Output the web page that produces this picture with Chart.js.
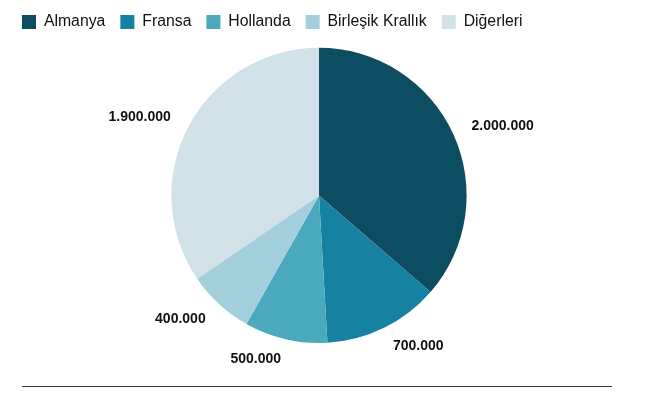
<!DOCTYPE html>
<html>
<head>
<meta charset="utf-8">
<script src="https://cdn.jsdelivr.net/npm/chart.js@4"></script>
<style>
  html, body { margin: 0; padding: 0; background: #fff; overflow: hidden; }
  #wrap { position: absolute; left: 7px; top: -1px; width: 624px; height: 384px; }
  #rule { position: absolute; left: 22px; top: 386px; width: 590px; height: 0; border-top: 1.5px solid #383838; }
</style>
</head>
<body>
<div id="wrap"><canvas id="pie"></canvas></div>
<div id="rule"></div>
<script>
// ── data ───────────────────────────────────────────────
const countries = ['Almanya', 'Fransa', 'Hollanda', 'Birleşik Krallık', 'Diğerleri'];
const visitors  = [2000000, 700000, 500000, 400000, 1900000];
const colors    = ['#0c4d61', '#1781a1', '#4ba9be', '#a3cfdc', '#d0e2e7'];

const fmt = (v) => v.toLocaleString('de-DE');

// a bit more space under the legend
const legendGap = {
    id: 'legendGap',
    beforeInit(chart) {
        const fit = chart.legend.fit;
        chart.legend.fit = function () {
            fit.call(this);
            this.height += 8;
        };
    }
};

// labels outside each slice, left/right aligned by side
const outsideLabels = {
    id: 'outsideLabels',
    afterDatasetsDraw(chart) {
        const ctx = chart.ctx;
        const meta = chart.getDatasetMeta(0);
        ctx.save();
        ctx.font = 'bold 14px "Liberation Sans", Arial, sans-serif';
        ctx.fillStyle = '#111';
        ctx.textBaseline = 'middle';
        meta.data.forEach((arc, i) => {
            const mid = (arc.startAngle + arc.endAngle) / 2;
            const r = arc.outerRadius + 20;
            const x = arc.x + Math.cos(mid) * r;
            const y = arc.y + Math.sin(mid) * r;
            ctx.textAlign = Math.cos(mid) >= 0 ? 'left' : 'right';
            ctx.fillText(fmt(chart.data.datasets[0].data[i]), x, y);
        });
        ctx.restore();
    }
};

new Chart(document.getElementById('pie'), {
    type: 'pie',
    data: {
        labels: countries,
        datasets: [{ data: visitors, backgroundColor: colors, borderWidth: 0 }]
    },
    options: {
        responsive: true,
        maintainAspectRatio: false,
        animation: false,
        layout: { padding: { top: 0, bottom: 40, left: 0, right: 0 } },
        plugins: {
            legend: {
                position: 'top',
                align: 'start',
                labels: {
                    boxWidth: 14, boxHeight: 14, padding: 15,
                    color: '#111',
                    font: { size: 15.8, family: '"Liberation Sans", Arial, sans-serif' }
                }
            },
            tooltip: { enabled: false }
        }
    },
    plugins: [legendGap, outsideLabels]
});
</script>
</body>
</html>
